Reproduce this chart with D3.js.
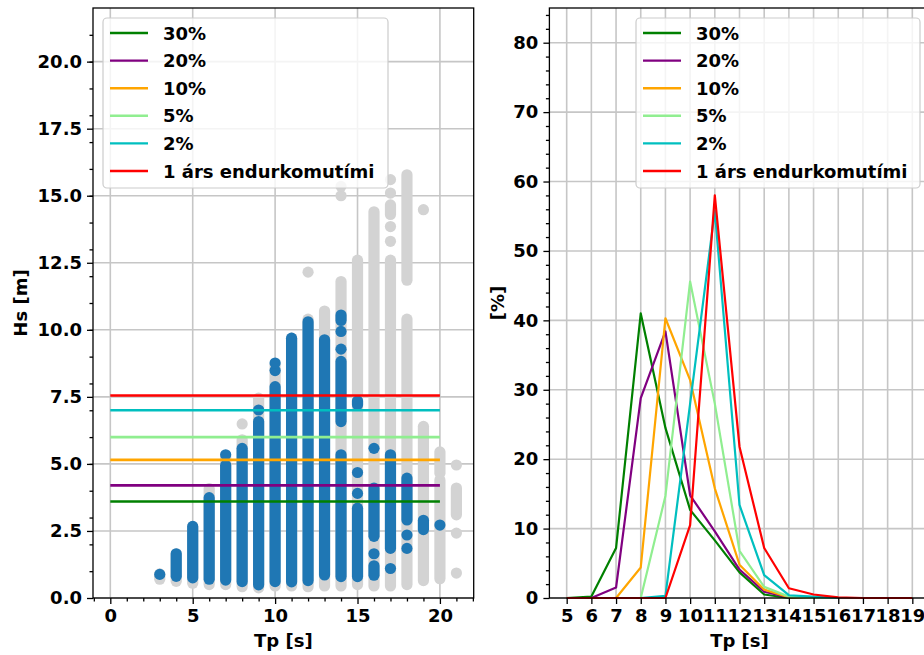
<!DOCTYPE html>
<html>
<head>
<meta charset="utf-8">
<script src="https://cdn.jsdelivr.net/npm/d3@7"></script>
<style>
  html, body { margin: 0; padding: 0; background: #fff; }
  svg { display: block; }
  text { font-family: "DejaVu Sans", sans-serif; font-weight: bold; fill: #000; }
</style>
</head>
<body>
<svg id="chart" width="924" height="655"></svg>
<script>
// ---------------- DATA ----------------
// Left panel: scatter columns of Hs at each Tp (all data = grey, subset = blue)
// each entry: [Tp, HsLow, HsHigh] (a dense run of points) ; single points have low == high
const greyRuns = [
  [3, 0.7, 0.9], [4, 0.62, 1.65], [5, 0.55, 2.67], [6, 0.5, 4.08], [7, 0.5, 5.3],
  [8, 0.42, 5.9], [8, 6.49, 6.49], [9, 0.38, 7.45], [10, 0.45, 8.7], [11, 0.45, 9.69],
  [12, 0.42, 10.4], [12, 12.15, 12.15], [13, 0.45, 10.7],
  [14, 0.45, 11.8], [14, 15.0, 15.0], [14, 15.35, 15.35],
  [15, 0.5, 12.6], [16, 0.45, 14.4],
  [17, 0.45, 12.6], [17, 13.3, 13.3], [17, 13.85, 13.85], [17, 14.3, 14.66], [17, 15.1, 15.1], [17, 15.6, 15.6],
  [18, 0.5, 10.4], [18, 11.85, 15.78],
  [19, 0.65, 6.4], [19, 14.48, 14.48],
  [20, 0.72, 4.4], [20, 4.65, 5.45],
  [21, 0.93, 0.93], [21, 2.42, 2.42], [21, 3.1, 4.1], [21, 4.96, 4.96]
];
const blueRuns = [
  [3, 0.88, 0.88], [4, 0.81, 1.65], [5, 0.75, 2.67], [6, 0.7, 3.74],
  [7, 0.67, 4.95], [7, 5.34, 5.34], [8, 0.61, 5.58],
  [9, 0.49, 6.58], [9, 7.01, 7.01],
  [10, 0.61, 7.88], [10, 8.48, 8.48], [10, 8.76, 8.76],
  [11, 0.6, 9.69], [12, 0.65, 10.3], [13, 0.86, 9.63],
  [14, 0.8, 5.34], [14, 6.58, 8.82], [14, 9.28, 9.28], [14, 9.94, 9.94], [14, 10.35, 10.55],
  [15, 0.8, 3.35], [15, 3.9, 3.9], [15, 4.68, 4.68], [15, 7.2, 7.35],
  [16, 0.85, 1.2], [16, 1.65, 1.65], [16, 2.3, 4.1], [16, 5.58, 5.58],
  [17, 1.1, 1.1], [17, 1.85, 5.34],
  [18, 1.85, 1.85], [18, 2.35, 2.35], [18, 2.91, 4.47],
  [19, 2.55, 2.9], [20, 2.72, 2.72]
];
// Horizontal Hs levels (drawn from Tp 0 to 20)
const seriesNames = ["30%", "20%", "10%", "5%", "2%", "1 árs endurkomutími"];
const seriesColors = ["#008000", "#800080", "#ffa500", "#90ee90", "#00bfbf", "#ff0000"];
const hsLevels = [3.6, 4.2, 5.15, 6.0, 7.0, 7.55];
const levelSpan = [0, 20];

// Right panel: percentage distribution over Tp
const tpValues = [5, 6, 7, 8, 9, 10, 11, 12, 13, 14, 15, 16, 17, 18, 19];
const pct30 = [0, 0.2, 7.2, 41.0, 24.5, 12.7, 8.3, 3.7, 0.5, 0, 0, 0, 0, 0, 0];
const pct20 = [0, 0, 1.5, 28.8, 38.4, 14.8, 9.6, 4.1, 0.9, 0.1, 0, 0, 0, 0, 0];
const pct10 = [0, 0, 0, 4.4, 40.3, 31.4, 15.8, 4.8, 1.2, 0.1, 0, 0, 0, 0, 0];
const pct5  = [0, 0, 0, 0, 14.7, 45.6, 28.0, 6.8, 1.6, 0.2, 0, 0, 0, 0, 0];
const pct2  = [0, 0, 0, 0, 0.3, 28.0, 55.8, 13.4, 3.3, 0.4, 0.2, 0, 0, 0, 0];
const pct1y = [0, 0, 0, 0, 0, 10.5, 58.0, 21.8, 7.2, 1.4, 0.5, 0.1, 0, 0, 0];
const pctSeries = [pct30, pct20, pct10, pct5, pct2, pct1y];

const leftXTicks = [0, 5, 10, 15, 20];
const leftYTicks = [0, 2.5, 5, 7.5, 10, 12.5, 15, 17.5, 20];
const rightYTicks = [0, 10, 20, 30, 40, 50, 60, 70, 80];

// ---------------- DRAW ----------------
const svg = d3.select("#chart");
const FS = 18;
const gridColor = "#c6c6c6";

const L = { left: 93, right: 473.7, top: 8, bottom: 598 };
const R = { left: 549.4, right: 929.6, top: 8, bottom: 598 };

const xL = d3.scaleLinear().domain([-1.05, 22.05]).range([L.left, L.right]);
const yL = d3.scaleLinear().domain([0, 22]).range([L.bottom, L.top]);
const xR = d3.scaleLinear().domain([4.3, 19.7]).range([R.left, R.right]);
const yR = d3.scaleLinear().domain([0, 85]).range([R.bottom, R.top]);

function styleAxis(g) {
  g.selectAll(".domain").remove();
  g.selectAll(".tick line").attr("stroke", "#000").attr("stroke-width", 1.3);
  g.selectAll(".tick text").style("font-size", FS + "px").style("font-family", "DejaVu Sans").style("font-weight", "bold");
}

function grid(g, xs, ys, xScale, yScale, box) {
  g.selectAll(null).data(xs).join("line")
    .attr("x1", d => xScale(d)).attr("x2", d => xScale(d))
    .attr("y1", box.top).attr("y2", box.bottom)
    .attr("stroke", gridColor).attr("stroke-width", 1.6);
  g.selectAll(null).data(ys).join("line")
    .attr("y1", d => yScale(d)).attr("y2", d => yScale(d))
    .attr("x1", box.left).attr("x2", box.right)
    .attr("stroke", gridColor).attr("stroke-width", 1.6);
}

function frame(box) {
  svg.append("rect").attr("x", box.left).attr("y", box.top)
    .attr("width", box.right - box.left).attr("height", box.bottom - box.top)
    .attr("fill", "none").attr("stroke", "#000").attr("stroke-width", 1.3);
}

function legend(x0, y0, w, h) {
  const g = svg.append("g");
  g.append("rect").attr("x", x0).attr("y", y0).attr("width", w).attr("height", h)
    .attr("rx", 4).attr("fill", "#fff").attr("fill-opacity", 0.8)
    .attr("stroke", "#cccccc").attr("stroke-width", 1.2);
  seriesNames.forEach((n, i) => {
    const cy = y0 + 15 + i * 27.6;
    g.append("line").attr("x1", x0 + 7).attr("x2", x0 + 45).attr("y1", cy).attr("y2", cy)
      .attr("stroke", seriesColors[i]).attr("stroke-width", 2.4);
    g.append("text").attr("x", x0 + 60).attr("y", cy + 6.5).style("font-size", FS + "px").text(n);
  });
}

// ---- Left panel ----
const gL = svg.append("g");
grid(gL, leftXTicks, leftYTicks, xL, yL, L);

const runsG = gL.append("g");
function drawRuns(runs, color) {
  runs.forEach(r => {
    if (r[1] === r[2]) {
      runsG.append("circle").attr("cx", xL(r[0])).attr("cy", yL(r[1])).attr("r", 5.6).attr("fill", color);
    } else {
      runsG.append("line").attr("x1", xL(r[0])).attr("x2", xL(r[0]))
        .attr("y1", yL(r[1])).attr("y2", yL(r[2]))
        .attr("stroke", color).attr("stroke-width", 11.2).attr("stroke-linecap", "round");
    }
  });
}
drawRuns(greyRuns, "#d3d3d3");
drawRuns(blueRuns, "#1f77b4");

gL.selectAll(null).data(hsLevels).join("line")
  .attr("x1", xL(levelSpan[0])).attr("x2", xL(levelSpan[1]))
  .attr("y1", d => yL(d)).attr("y2", d => yL(d))
  .attr("stroke", (d, i) => seriesColors[i]).attr("stroke-width", 2.6);

// axes left
const axLx = svg.append("g").attr("transform", `translate(0,${L.bottom})`)
  .call(d3.axisBottom(xL).tickValues(leftXTicks).tickFormat(d3.format("d")).tickSize(6).tickPadding(5));
styleAxis(axLx);
const axLxm = svg.append("g").attr("transform", `translate(0,${L.bottom})`)
  .call(d3.axisBottom(xL).tickValues(d3.range(-1, 23).filter(v => v % 5 !== 0)).tickFormat("").tickSize(3.5));
styleAxis(axLxm);
const axLy = svg.append("g").attr("transform", `translate(${L.left},0)`)
  .call(d3.axisLeft(yL).tickValues(leftYTicks).tickFormat(d3.format(".1f")).tickSize(6).tickPadding(5));
styleAxis(axLy);
const axLym = svg.append("g").attr("transform", `translate(${L.left},0)`)
  .call(d3.axisLeft(yL).tickValues(d3.range(1, 22)).tickFormat("").tickSize(3.5));
styleAxis(axLym);
frame(L);
legend(103, 18, 285, 170);

svg.append("text").attr("x", (L.left + L.right) / 2).attr("y", 647)
  .attr("text-anchor", "middle").style("font-size", FS + "px").text("Tp [s]");
svg.append("text").attr("transform", `translate(27,${(L.top + L.bottom) / 2}) rotate(-90)`)
  .attr("text-anchor", "middle").style("font-size", FS + "px").text("Hs [m]");

// ---- Right panel ----
const gR = svg.append("g");
grid(gR, tpValues, rightYTicks, xR, yR, R);

const line = d3.line().x((d, i) => xR(tpValues[i])).y(d => yR(d));
gR.selectAll(null).data(pctSeries).join("path")
  .attr("d", d => line(d)).attr("fill", "none")
  .attr("stroke", (d, i) => seriesColors[i]).attr("stroke-width", 2.2)
  .attr("stroke-linejoin", "round");

const axRx = svg.append("g").attr("transform", `translate(0,${R.bottom})`)
  .call(d3.axisBottom(xR).tickValues(tpValues).tickFormat(d3.format("d")).tickSize(6).tickPadding(5));
styleAxis(axRx);
const axRy = svg.append("g").attr("transform", `translate(${R.left},0)`)
  .call(d3.axisLeft(yR).tickValues(rightYTicks).tickFormat(d3.format("d")).tickSize(6).tickPadding(5));
styleAxis(axRy);
const axRym = svg.append("g").attr("transform", `translate(${R.left},0)`)
  .call(d3.axisLeft(yR).tickValues(d3.range(2, 85, 2).filter(v => v % 10 !== 0)).tickFormat("").tickSize(3.5));
styleAxis(axRym);
frame(R);
legend(636, 18, 284, 170);

svg.append("text").attr("x", (R.left + R.right) / 2).attr("y", 647)
  .attr("text-anchor", "middle").style("font-size", FS + "px").text("Tp [s]");
svg.append("text").attr("transform", `translate(504,${(R.top + R.bottom) / 2}) rotate(-90)`)
  .attr("text-anchor", "middle").style("font-size", FS + "px").text("[%]");
</script>
</body>
</html>
